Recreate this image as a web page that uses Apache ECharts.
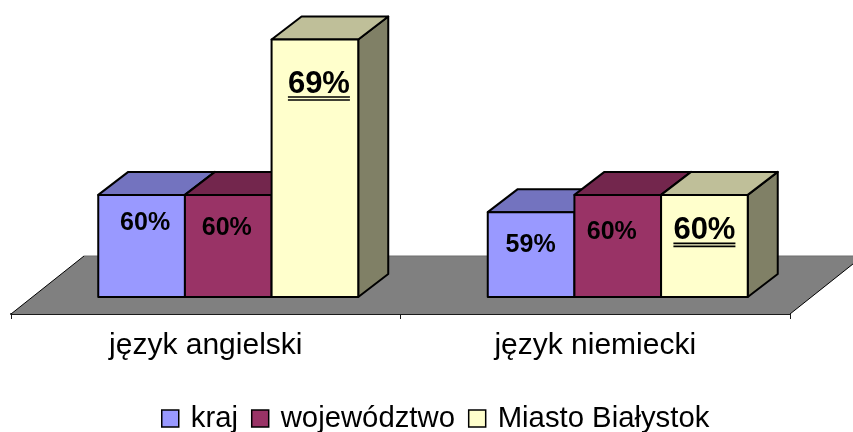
<!DOCTYPE html>
<html><head><meta charset="utf-8">
<style>html,body{margin:0;padding:0;background:#fff}#c{width:853px;height:432px}</style>
<script src="https://cdn.jsdelivr.net/npm/echarts@6/dist/echarts.min.js"></script>
</head><body><div id="c"></div>
<script>
const categories = ['język angielski', 'język niemiecki'];
const seriesNames = ['kraj', 'województwo', 'Miasto Białystok'];
const kraj = [60, 59];
const wojewodztwo = [60, 60];
const miasto = [69, 60];
const axisMin = 53.1, axisMax = 71;

const colors = ['#9999FF', '#993366', '#FFFFCC'];
const topColors = ['#7373BF', '#73264D', '#BFBF99'];
const sideColors = ['#4D4D80', '#4D1A33', '#808066'];
const DX = 30, DY = 23, BASE_INSET = 17, GROUP_SHIFT = 22.5, BAR_FRAC = 0.2225;
const FLOOR_DX = 73, FLOOR_DY = 58;
// label nudges per series / category: [dx, dy from the bar's top edge]
const labelNudge = [
  [[3.5, 28], [-0.5, 33]],
  [[-1.5, 33], [-6, 37]],
  [[4, 45], [0, 36]]
];
const bigLabel = [false, false, true];

function floorItem(params, api) {
  const c = params.coordSys;
  const b = c.y + c.height, l = c.x, r = c.x + c.width;
  return { type: 'group', children: [
    { type: 'polygon', shape: { points: [[l, b], [r, b], [r + FLOOR_DX, b - FLOOR_DY], [l + FLOOR_DX, b - FLOOR_DY]] },
      style: { fill: '#808080', stroke: null } },
    { type: 'line', shape: { x1: l + FLOOR_DX, y1: b - FLOOR_DY, x2: r + FLOOR_DX, y2: b - FLOOR_DY }, style: { stroke: '#6e6e6e', lineWidth: 1 } },
    { type: 'line', shape: { x1: l, y1: b, x2: l + FLOOR_DX, y2: b - FLOOR_DY }, style: { stroke: '#000', lineWidth: 1 } },
    { type: 'line', shape: { x1: r, y1: b, x2: r + FLOOR_DX, y2: b - FLOOR_DY }, style: { stroke: '#000', lineWidth: 1 } }
  ]};
}

function barRenderer(si) {
  return function (params, api) {
    const cat = api.value(0), val = api.value(1);
    const p = api.coord([cat, val]);
    const band = api.size([1, 0])[0];
    const w = band * BAR_FRAC;
    const x0 = p[0] + GROUP_SHIFT + (si - 1.5) * w, x1 = x0 + w;
    const top = p[1];
    const base = api.coord([cat, axisMin])[1] - BASE_INSET;
    const line = { stroke: '#000', lineWidth: 2, lineJoin: 'round' };
    const n = labelNudge[si][cat];
    const big = bigLabel[si];
    const fs = big ? 31 : 25;
    const lx = (x0 + x1) / 2 + n[0], ly = top + n[1];
    const children = [
      { type: 'polygon', shape: { points: [[x1, top], [x1 + DX, top - DY], [x1 + DX, base - DY], [x1, base]] },
        style: Object.assign({ fill: sideColors[si] }, line) },
      { type: 'polygon', shape: { points: [[x0, top], [x0 + DX, top - DY], [x1 + DX, top - DY], [x1, top]] },
        style: Object.assign({ fill: topColors[si] }, line) },
      { type: 'rect', shape: { x: x0, y: top, width: w, height: base - top },
        style: Object.assign({ fill: colors[si] }, line) },
      { type: 'text', style: { x: lx, y: ly, text: val + '%', fill: '#000', align: 'center', verticalAlign: 'middle',
        font: 'bold ' + fs + 'px "Liberation Sans", Arial, sans-serif' } }
    ];
    if (big) {
      const hw = fs, by = ly + 12.5;
      [0, 3].forEach(function (d) {
        children.push({ type: 'line', shape: { x1: lx - hw, y1: by + d, x2: lx + hw, y2: by + d }, style: { stroke: '#000', lineWidth: 1.6 } });
      });
    }
    return { type: 'group', children: children };
  };
}

const values = [kraj, wojewodztwo, miasto];
const chart = echarts.init(document.getElementById('c'), null, { renderer: 'canvas' });
chart.setOption({
  animation: false,
  backgroundColor: '#fff',
  grid: { left: 11, width: 779, top: 5, height: 309 },
  xAxis: {
    type: 'category', data: categories, boundaryGap: true,
    axisLine: { lineStyle: { color: '#1a1a1a', width: 2 } },
    axisTick: { show: true, length: 5, lineStyle: { color: '#1a1a1a', width: 1 }, alignWithLabel: false },
    axisLabel: { color: '#000', fontSize: 30, fontFamily: '"Liberation Sans", Arial, sans-serif', margin: 17 }
  },
  yAxis: { type: 'value', min: axisMin, max: axisMax, show: false, splitLine: { show: false } },
  legend: {
    data: seriesNames, left: 156, top: 399, itemWidth: 17, itemHeight: 17, itemGap: 13,
    icon: 'rect', selectedMode: false,
    textStyle: { color: '#000', fontSize: 29.3, fontFamily: '"Liberation Sans", Arial, sans-serif', padding: [0, 0, 0, 7] },
    itemStyle: { borderColor: '#000', borderWidth: 1.5 }
  },
  series: [
    { type: 'custom', name: 'floor', renderItem: floorItem, data: [[0, axisMin]], encode: { x: 0, y: 1 }, silent: true, z: 1 }
  ].concat(seriesNames.map(function (name, si) {
    return {
      type: 'custom', name: name, renderItem: barRenderer(si),
      itemStyle: { color: colors[si] },
      data: values[si].map(function (v, i) { return [i, v]; }),
      encode: { x: 0, y: 1 }, z: 2 + si
    };
  }))
});
</script></body></html>
